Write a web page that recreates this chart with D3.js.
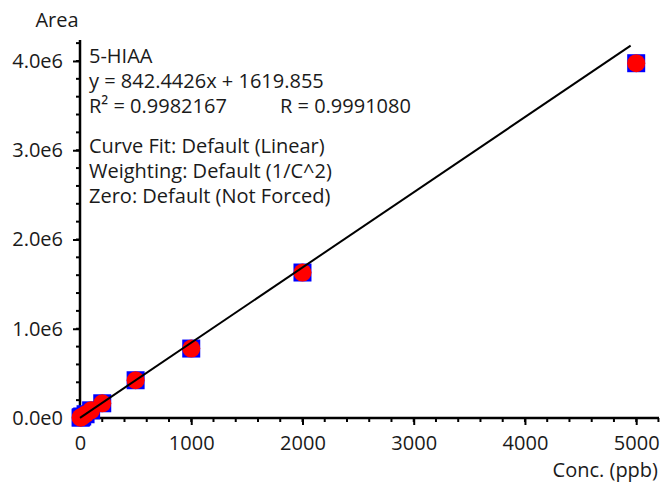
<!DOCTYPE html>
<html>
<head>
<meta charset="utf-8">
<script src="https://cdn.jsdelivr.net/npm/d3@7"></script>
<style>
  body { margin: 0; background: #fff; }
  text { font-family: "Open Sans", "Noto Sans", sans-serif; fill: #1a1a1a; }
</style>
</head>
<body>
<div id="chart"></div>
<script>
// Calibration data
const conc = [5, 10, 20, 50, 100, 200, 500, 1000, 2000, 5000];
const area = [4000, 8500, 17000, 42000, 86000, 165000, 423000, 778000, 1630000, 3975000];

// Fit
const slope = 842.4426;
const intercept = 1619.855;
const fitRange = [0, 4950];

const xTicks = [0, 1000, 2000, 3000, 4000, 5000];
const yTicks = [0, 1e6, 2e6, 3e6, 4e6];

const notes = [
  "5-HIAA",
  "y = 842.4426x + 1619.855",
  "R\u00B2 = 0.9982167",
  "",
  "Curve Fit: Default (Linear)",
  "Weighting: Default (1/C^2)",
  "Zero: Default (Not Forced)"
];
const rNote = "R = 0.9991080";

const W = 661, H = 483;
const margin = {top: 40, left: 80, right: 2, bottom: 65};
const width = W - margin.left - margin.right;
const height = H - margin.top - margin.bottom;
const fs = 20;

const svg = d3.select("#chart").append("svg")
    .attr("width", W)
    .attr("height", H);

const g = svg.append("g")
    .attr("transform", `translate(${margin.left},${margin.top})`);

const x = d3.scaleLinear().domain([0, 5205]).range([0, width]);
const y = d3.scaleLinear().domain([0, 4.235e6]).range([height, 0]);

// minor ticks
const xMinor = d3.range(0, 5205, 200);
const yMinor = d3.range(0, 4.235e6, 2e5);

g.append("g")
    .attr("transform", `translate(0,${height})`)
    .selectAll("line").data(xMinor).join("line")
    .attr("x1", d => x(d)).attr("x2", d => x(d))
    .attr("y1", 0).attr("y2", 4)
    .attr("stroke", "#000").attr("stroke-width", 2);

g.append("g")
    .selectAll("line").data(yMinor).join("line")
    .attr("y1", d => y(d)).attr("y2", d => y(d))
    .attr("x1", 0).attr("x2", -4)
    .attr("stroke", "#000").attr("stroke-width", 2);

const xAxis = d3.axisBottom(x).tickValues(xTicks).tickFormat(d3.format("d"))
    .tickSize(7).tickPadding(11);
const yAxis = d3.axisLeft(y).tickValues(yTicks).tickFormat(d => (d / 1e6).toFixed(1) + "e" + (d === 0 ? 0 : 6))
    .tickSize(7).tickPadding(10);

const xg = g.append("g")
    .attr("transform", `translate(0,${height})`)
    .call(xAxis);
const yg = g.append("g").call(yAxis);

[xg, yg].forEach(a => {
  a.select(".domain").attr("stroke", "#000").attr("stroke-width", 2.5);
  a.selectAll(".tick line").attr("stroke", "#000").attr("stroke-width", 2);
  a.selectAll(".tick text").attr("font-size", fs)
    .attr("font-family", "'Open Sans', sans-serif").attr("fill", "#1a1a1a");
});
xg.select(".domain").attr("d", `M0,0H${width}`);
yg.select(".domain").attr("d", `M0,0V${height}`);

// axis titles
svg.append("text")
    .attr("x", 57).attr("y", 27)
    .attr("text-anchor", "middle")
    .attr("font-size", fs)
    .text("Area");

svg.append("text")
    .attr("x", W - 3).attr("y", 477)
    .attr("text-anchor", "end")
    .attr("font-size", fs)
    .text("Conc. (ppb)");

// markers
const pts = conc.map((c, i) => ({c, a: area[i]}));
const s = 18;
g.selectAll("rect.pt").data(pts).join("rect")
    .attr("class", "pt")
    .attr("x", d => x(d.c) - s / 2)
    .attr("y", d => y(d.a) - s / 2)
    .attr("width", s).attr("height", s)
    .attr("fill", "#0000ff");

g.selectAll("circle.pt").data(pts).join("circle")
    .attr("class", "pt")
    .attr("cx", d => x(d.c))
    .attr("cy", d => y(d.a))
    .attr("r", 9)
    .attr("fill", "#ff0000");

// fit line
const line = d3.line()
    .x(d => x(d))
    .y(d => y(slope * d + intercept));

g.append("path")
    .datum(fitRange)
    .attr("d", line)
    .attr("fill", "none")
    .attr("stroke", "#000")
    .attr("stroke-width", 2);

// annotation
const lineY = [63, 88, 113, 0, 153, 178, 203];
svg.append("g").selectAll("text").data(notes).join("text")
    .attr("x", 89)
    .attr("y", (d, i) => lineY[i])
    .attr("font-size", fs)
    .text(d => d);

svg.append("text")
    .attr("x", 280).attr("y", lineY[2])
    .attr("font-size", fs)
    .text(rNote);
</script>
</body>
</html>
